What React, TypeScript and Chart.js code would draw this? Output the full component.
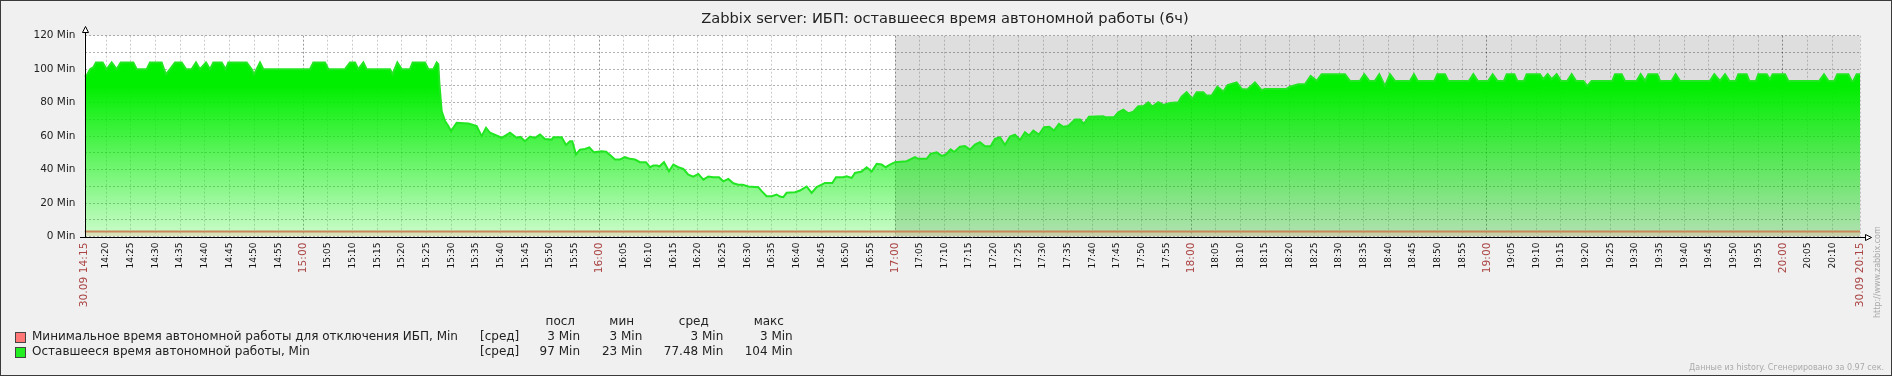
import React, { useEffect, useRef } from 'react';
import { Chart, registerables } from 'chart.js';

Chart.register(...registerables);

const CANVAS_W = 1892;
const CANVAS_H = 376;
const FONT = '"DejaVu Sans", sans-serif';

const chartTitle = 'Zabbix server: ИБП: оставшееся время автономной работы (6ч)';

// x values: minutes after 30.09 14:15
const baseClockMinutes = 14 * 60 + 15;
const periodStart = 0.63;
const periodEnd = 360.63;
const nonWorkingFrom = 165; // 17:00
const startLabel = '30.09 14:15';
const endLabel = '30.09 20:15';

// Оставшееся время автономной работы, Min  [minute, value]
const remainingPoints: [number, number][] = [
  [0.63, 96], [1.0, 96], [1.75, 100], [2.4, 101], [2.96, 104], [4.31, 104], [5.13, 100], [6.14, 104],
  [7.15, 100], [7.97, 104], [10.53, 104], [11.21, 100], [13.24, 100], [13.91, 104], [16.28, 104],
  [16.75, 100], [17.16, 97], [17.97, 100], [18.98, 104], [20.33, 104], [21.21, 100], [22.36, 100],
  [23.24, 104], [24.05, 100], [25.27, 104], [26.08, 100], [26.75, 104], [28.44, 104], [29.25, 100],
  [29.8, 104], [33.51, 104], [34.53, 100], [35.0, 97], [36.22, 104], [36.89, 100], [46.35, 100],
  [47.03, 104], [49.4, 104], [50.07, 100], [53.45, 100], [54.46, 104], [55.48, 104], [56.15, 100],
  [57.17, 104], [57.84, 100], [62.58, 100], [63.12, 97], [64.06, 104], [64.94, 100], [66.63, 100],
  [67.17, 104], [69.67, 104], [70.35, 100], [71.36, 100], [72.04, 104], [72.37, 103], [72.58, 92],
  [73.05, 75], [73.73, 69], [74.4, 66], [74.94, 63], [76.09, 68], [78.5, 67.5], [80.15, 66],
  [81.16, 60], [82.04, 65], [82.85, 62], [85.22, 59], [86.91, 62], [88.26, 59],
  [89.0, 59.5], [89.94, 57], [90.96, 59.7], [91.97, 58.9], [92.99, 60.9], [94.0, 58.3], [95.35, 57.9],
  [95.69, 59.3], [97.38, 59.3], [98.26, 54.7], [99.07, 56.9], [99.54, 56.9], [100.28, 49], [101.1, 51.9],
  [102.11, 52.3], [102.99, 53.3], [103.93, 50.3], [105.49, 50.9], [106.37, 50.7], [107.31, 48.4],
  [108.19, 46], [109.21, 46], [110.22, 47.4], [111.23, 46.4], [112.25, 46], [113.26, 44.4], [114.48, 44.4],
  [115.29, 41.4], [115.96, 42.4], [116.77, 42.4], [117.18, 41.8], [118.13, 44.4], [119.14, 39], [120.02, 43],
  [121.03, 41.4], [122.05, 40.4], [123.06, 37], [124.07, 35.8], [125.09, 37.4], [126.1, 34], [127.12, 35.8],
  [128.13, 35.4], [129.28, 35.4], [130.16, 33], [131.17, 34.4], [132.19, 31.8], [133.2, 31], [134.08, 31],
  [135.23, 29.9], [137.25, 29.5], [137.93, 27.1], [138.94, 24.1], [139.96, 24.1], [140.97, 25.1],
  [141.65, 23.9], [142.32, 23.5], [143.0, 26.1], [144.69, 26.5], [145.7, 27.5], [147.05, 29.9],
  [148.07, 26.1], [149.08, 29.5], [150.1, 31], [150.77, 32], [152.26, 32], [153.0, 35.4], [154.49, 35.4],
  [155.16, 36], [156.18, 35], [156.85, 38], [158.2, 38.8], [159.22, 41.4], [160.23, 38.8], [161.25, 43.4],
  [162.26, 43], [163.07, 41.4], [163.95, 43], [164.96, 44.4], [167.33, 45], [169.02, 47.4], [169.7, 46.4],
  [171.38, 46.4], [172.19, 49.4], [173.41, 50.3], [174.42, 48.2], [175.3, 49], [176.25, 52.1], [176.99, 50.5],
  [178.14, 53.7], [179.15, 54.1], [180.17, 51.9], [181.18, 54.9], [182.19, 56.3], [183.21, 53.9],
  [184.36, 53.9], [185.24, 58.3], [186.25, 59.3], [187.26, 54.7], [188.28, 59.7], [189.29, 60.9],
  [190.31, 57.7], [191.32, 62.3], [192.13, 60.3], [193.01, 63.3], [194.16, 60.9], [195.17, 65.3],
  [196.25, 65.6], [197.2, 63.3], [198.21, 67.3], [199.09, 65.6], [200.1, 66], [201.46, 69.9], [202.47, 69.9],
  [203.28, 67.3], [204.3, 71.6], [207.2, 71.8], [207.68, 71.2], [209.36, 71.2], [210.24, 74.2], [211.26, 75.8],
  [212.27, 73.6], [213.28, 74.6], [214.3, 77.8], [215.31, 77.8], [216.33, 80.2], [217.14, 77.6], [218.35, 80.2],
  [219.37, 78.6], [220.72, 79.8], [222.41, 80.2], [223.08, 83.6], [224.1, 86.2], [225.25, 82.2], [226.13, 86.2],
  [227.48, 86.2], [228.15, 84.2], [229.17, 84.2], [230.32, 89.5], [231.53, 86.6], [232.41, 90.5], [234.24, 92.1],
  [235.25, 88.2], [236.4, 87.8], [237.95, 92.1], [239.3, 87.5], [239.98, 88.2], [244.37, 88.2], [245.05, 89.5],
  [246.74, 91], [248.09, 91], [249.24, 96], [250.46, 93], [251.47, 97], [256.2, 97], [257.21, 93], [259.24, 93],
  [260.12, 97], [261.13, 93], [262.28, 93], [263.16, 97], [264.31, 90], [265.33, 97], [266.34, 93],
  [269.39, 93], [270.2, 97], [270.94, 93], [274.32, 93], [274.93, 97], [276.48, 97], [277.16, 93], [281.35, 93],
  [282.23, 97], [283.11, 93], [285.27, 93], [286.15, 97], [287.1, 93], [288.45, 93], [288.99, 97], [290.54, 97],
  [291.15, 93], [292.5, 93], [293.04, 97], [295.75, 97], [296.42, 94], [297.3, 97], [298.11, 94], [299.12, 97],
  [300.0, 93], [301.29, 93], [302.17, 97], [303.04, 93], [304.53, 93], [305.34, 90], [306.22, 93], [310.41, 93],
  [310.95, 97], [312.3, 97], [312.98, 93], [315.35, 93], [316.16, 97], [317.04, 93], [317.71, 97], [319.54, 97],
  [320.08, 93], [322.44, 93], [323.25, 97], [324.13, 93], [330.21, 93], [331.09, 97], [332.24, 93], [333.26, 97],
  [334.13, 93], [335.42, 93], [335.96, 97], [337.65, 97], [338.19, 93], [339.54, 93], [340.01, 97], [341.71, 97],
  [342.38, 94], [342.92, 97], [345.42, 97], [346.1, 93], [352.38, 93], [353.33, 97], [354.21, 93], [355.42, 93],
  [356.03, 97], [358.26, 97], [358.94, 93], [359.27, 93], [359.95, 97], [360.63, 97],
];

// Минимальное время автономной работы для отключения ИБП, Min
const minShutdownTimes = [periodStart, periodEnd];
const minShutdownValues = [3, 3];

const seriesNames = [
  'Минимальное время автономной работы для отключения ИБП, Min',
  'Оставшееся время автономной работы, Min',
];
const seriesSwatch = ['#ff7777', '#22ee22'];
const statFunction = '[сред]';
const statHeaders = ['посл', 'мин', 'сред', 'макс'];
const statRows = [
  ['3 Min', '3 Min', '3 Min', '3 Min'],
  ['97 Min', '23 Min', '77.48 Min', '104 Min'],
];
const footerText = 'Данные из history. Сгенерировано за 0.97 сек.';
const sideUrl = 'http://www.zabbix.com';

const xTickValues: number[] = [periodStart];
for (let m = 5; m < periodEnd - 1; m += 5) xTickValues.push(m);
xTickValues.push(periodEnd);

const near = (a: number, b: number) => Math.abs(a - b) < 1e-6;
const isHour = (v: number) => Number.isInteger(v) && Math.round(baseClockMinutes + v) % 60 === 0;
const isMainTick = (v: number) => near(v, periodStart) || near(v, periodEnd) || isHour(v);
function tickLabel(v: number): string {
  if (near(v, periodStart)) return startLabel;
  if (near(v, periodEnd)) return endLabel;
  const total = baseClockMinutes + Math.round(v);
  return `${Math.floor(total / 60)}:${String(total % 60).padStart(2, '0')}`;
}

const framePlugin = {
  id: 'zabbixFrame',
  beforeDraw(chart: any) {
    const { ctx, chartArea: ca, scales } = chart;
    ctx.save();
    ctx.fillStyle = '#f0f0f0';
    ctx.fillRect(0, 0, chart.width, chart.height);
    ctx.fillStyle = '#ffffff';
    ctx.fillRect(ca.left, ca.top, ca.right - ca.left, ca.bottom - ca.top);
    const xg = scales.x.getPixelForValue(nonWorkingFrom);
    ctx.fillStyle = '#dedede';
    ctx.fillRect(xg, ca.top, ca.right - xg, ca.bottom - ca.top);
    ctx.restore();
  },
  afterDraw(chart: any) {
    const { ctx, chartArea: ca } = chart;
    ctx.save();
    // title
    ctx.font = `14.65px ${FONT}`;
    ctx.fillStyle = '#222';
    ctx.textAlign = 'center';
    ctx.textBaseline = 'middle';
    ctx.fillText(chartTitle, 945, 19.3);

    // axes
    const ax = Math.round(ca.left) + 0.5;
    const ay = Math.round(ca.bottom) + 0.5;
    ctx.strokeStyle = '#000';
    ctx.lineWidth = 1;
    ctx.beginPath();
    ctx.moveTo(ax, 32);
    ctx.lineTo(ax, ay);
    ctx.moveTo(80, ay);
    ctx.lineTo(1865, ay);
    ctx.stroke();
    // arrows
    ctx.fillStyle = '#ffffff';
    ctx.beginPath();
    ctx.moveTo(ax - 3, 32.5);
    ctx.lineTo(ax + 3, 32.5);
    ctx.lineTo(ax, 26.5);
    ctx.closePath();
    ctx.fill();
    ctx.stroke();
    ctx.beginPath();
    ctx.moveTo(1865.5, ay - 3);
    ctx.lineTo(1865.5, ay + 3);
    ctx.lineTo(1871.5, ay);
    ctx.closePath();
    ctx.fill();
    ctx.stroke();

    // legend
    ctx.font = `12px ${FONT}`;
    ctx.textBaseline = 'middle';
    ctx.fillStyle = '#222';
    const headerY = 321.7;
    const rowY = [336.7, 351.7];
    const headerX = [560.3, 621.7, 693.8, 768.8];
    const valueX = [580, 642.3, 723.3, 792.7];
    ctx.textAlign = 'center';
    statHeaders.forEach((h, i) => ctx.fillText(h, headerX[i], headerY));
    seriesNames.forEach((name, r) => {
      const y = rowY[r];
      ctx.fillStyle = seriesSwatch[r];
      ctx.fillRect(15, Math.round(y) - 5, 11, 11);
      ctx.strokeStyle = '#444';
      ctx.strokeRect(15.5, Math.round(y) - 4.5, 10, 10);
      ctx.fillStyle = '#222';
      ctx.textAlign = 'left';
      ctx.fillText(name, 32, y);
      ctx.fillText(statFunction, 480, y);
      ctx.textAlign = 'right';
      statRows[r].forEach((v, i) => ctx.fillText(v, valueX[i], y));
    });

    // footer
    ctx.font = `8px ${FONT}`;
    ctx.fillStyle = '#aaaaaa';
    ctx.textAlign = 'right';
    ctx.fillText(footerText, 1884, 367.7);
    ctx.save();
    ctx.translate(1878, 318);
    ctx.rotate(-Math.PI / 2);
    ctx.textAlign = 'left';
    ctx.fillText(sideUrl, 0, 0);
    ctx.restore();

    // outer border
    ctx.strokeStyle = '#3a3a3a';
    ctx.strokeRect(0.5, 0.5, chart.width - 1, chart.height - 1);
    ctx.restore();
  },
};

export default function App() {
  const ref = useRef<HTMLCanvasElement | null>(null);
  useEffect(() => {
    document.body.style.margin = '0';
    const canvas = ref.current;
    if (!canvas) return;
    const chart = new Chart(canvas, {
      type: 'line',
      data: {
        datasets: [
          {
            label: seriesNames[0],
            data: minShutdownTimes.map((t, i) => ({ x: t, y: minShutdownValues[i] })),
            borderColor: '#c8875a',
            borderWidth: 2,
            backgroundColor: 'rgba(255,165,150,0.3)',
            fill: 'origin',
            pointRadius: 0,
            tension: 0,
          },
          {
            label: seriesNames[1],
            data: remainingPoints.map(([t, v]) => ({ x: t, y: v })),
            borderColor: '#22e622',
            borderWidth: 2,
            backgroundColor: (c: any) => {
              const ch = c.chart;
              const ys = ch.scales && ch.scales.y;
              if (!ch.chartArea || !ys) return 'rgba(0,238,0,0.6)';
              const g = ch.ctx.createLinearGradient(0, ys.getPixelForValue(90), 0, ys.getPixelForValue(0));
              g.addColorStop(0, 'rgba(0,238,0,1)');
              g.addColorStop(1, 'rgba(0,238,0,0.2)');
              return g;
            },
            fill: 'origin',
            pointRadius: 0,
            tension: 0,
          },
        ],
      },
      options: {
        animation: false,
        responsive: false,
        devicePixelRatio: 1,
        events: [],
        layout: { padding: { left: 0, right: 32, top: 35.7, bottom: 0 } },
        plugins: {
          legend: { display: false },
          tooltip: { enabled: false },
          title: { display: false },
        },
        scales: {
          x: {
            type: 'linear',
            min: periodStart,
            max: periodEnd,
            bounds: 'data',
            z: 1,
            afterBuildTicks: (s: any) => {
              s.ticks = xTickValues.map((v) => ({ value: v }));
            },
            afterFit: (s: any) => {
              s.height = CANVAS_H - 236.5;
            },
            grid: {
              drawTicks: false,
              lineWidth: 1,
              color: (c: any) => {
                const v = c.tick ? c.tick.value : 0;
                if (near(v, periodStart)) return 'rgba(0,0,0,0)';
                return isHour(v) ? 'rgba(0,0,0,0.4)' : 'rgba(0,0,0,0.2)';
              },
            },
            border: { display: false, dash: [2, 2] },
            ticks: {
              autoSkip: false,
              minRotation: 90,
              maxRotation: 90,
              padding: 6,
              callback: (v: any) => tickLabel(Number(v)),
              color: (c: any) => (c.tick && isMainTick(c.tick.value) ? '#aa4444' : '#111'),
              font: (c: any) =>
                c.tick && isMainTick(c.tick.value)
                  ? { family: FONT, size: 10.7, lineHeight: 1.2 }
                  : { family: FONT, size: 9, lineHeight: 1.2 },
            },
          },
          y: {
            type: 'linear',
            min: 0,
            max: 120,
            z: 1,
            afterFit: (s: any) => {
              s.width = 84.5;
            },
            grid: { drawTicks: false, color: 'rgba(0,0,0,0.3)', lineWidth: 1 },
            border: { display: false, dash: [2, 2] },
            ticks: {
              stepSize: 10,
              padding: 9,
              color: '#222',
              font: { family: FONT, size: 10.5 },
              callback: (v: any) => (Number(v) % 20 === 0 ? `${v} Min` : ''),
            },
          },
        },
      },
      plugins: [framePlugin],
    } as any);
    return () => chart.destroy();
  }, []);
  return (
    <div style={{ width: CANVAS_W, height: CANVAS_H }}>
      <canvas ref={ref} width={CANVAS_W} height={CANVAS_H} style={{ display: 'block', width: CANVAS_W, height: CANVAS_H }} />
    </div>
  );
}
